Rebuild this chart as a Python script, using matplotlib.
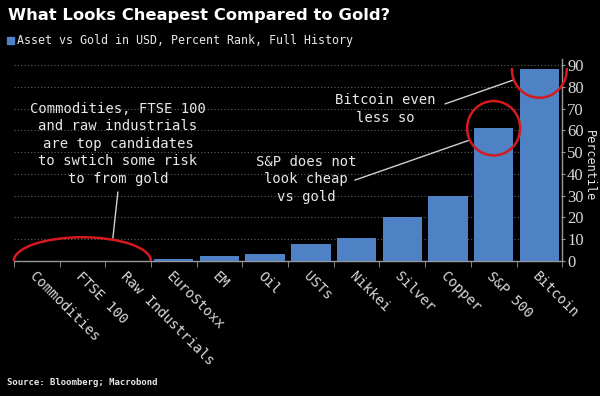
import numpy as np
import matplotlib.pyplot as plt
from matplotlib.patches import Arc, Rectangle

assets = ["Commodities", "FTSE 100", "Raw Industrials", "EuroStoxx", "EM", "Oil",
          "USTs", "Nikkei", "Silver", "Copper", "S&P 500", "Bitcoin"]
pct_rank = [0, 0, 0, 0.8, 2.5, 3, 8, 10.7, 20.2, 30, 61, 88]
y_ticks = [0, 10, 20, 30, 40, 50, 60, 70, 80, 90]

bar_col = "#4f81c5"
red = "#d41a1f"
txt = "#e8e8e8"
grey = "#9a9a9a"
mono = "DejaVu Sans Mono"

fig = plt.figure(figsize=(6, 3.96), dpi=100, facecolor="black")
ax = fig.add_axes([0.023, 0.341, 0.914, 0.511], facecolor="black")

x = np.arange(len(assets))
ax.bar(x, pct_rank, width=0.86, color=bar_col, zorder=3)

ax.set_xlim(-0.5, len(assets) - 0.5)
ax.set_ylim(0, 93)

# y axis on the right
ax.yaxis.tick_right()
ax.yaxis.set_label_position("right")
ax.set_yticks(y_ticks)
ax.set_yticklabels([str(v) for v in y_ticks], family="Liberation Serif",
                   fontsize=12, color="#d8d8d8")
ax.tick_params(axis="y", length=2, color=grey, pad=1.5)
ax.set_ylabel("Percentile", family=mono, fontsize=8.5, color=txt,
              rotation=270, labelpad=9, y=0.47)

ax.set_xticks(x)
ax.set_xticklabels(assets, rotation=-45, ha="left", va="top",
                   rotation_mode="anchor", family=mono, fontsize=10,
                   color="#d8d8d8")
ax.tick_params(axis="x", length=0, pad=6)
ax.set_xticks(np.arange(-0.5, len(assets), 1), minor=True)
ax.tick_params(axis="x", which="minor", length=4, color=grey)

for s in ["top", "left"]:
    ax.spines[s].set_visible(False)
for s in ["bottom", "right"]:
    ax.spines[s].set_color(grey)
    ax.spines[s].set_linewidth(1)

for v in y_ticks[1:]:
    ax.axhline(v, color="#606060", lw=0.8, ls=(0, (1, 2)), zorder=1)

# red circles
ax.add_patch(Arc((1, 0), 3.0, 21.8, theta1=0, theta2=180, color=red, lw=1.8,
                 zorder=5, clip_on=False))
ax.add_patch(Arc((10, 61), 1.16, 25, theta1=0, theta2=360, color=red, lw=1.8,
                 zorder=5))
ax.add_patch(Arc((11, 88), 1.2, 26, theta1=130, theta2=50, color=red, lw=1.8,
                 zorder=5, clip_on=False))

# leader lines
ax.plot([1.777, 1.668], [31.6, 10.5], color="#d0d0d0", lw=1, zorder=4)
ax.plot([6.97, 9.48], [37.2, 55.6], color="#d0d0d0", lw=1, zorder=4)
ax.plot([8.94, 10.45], [72.2, 83.3], color="#d0d0d0", lw=1, zorder=4,
        clip_on=False)

ax.text(1.78, 53.8, "Commodities, FTSE 100\nand raw industrials\nare top candidates\n"
        "to swtich some risk\nto from gold", ha="center", va="center",
        family=mono, fontsize=10, color=txt, linespacing=1.32, zorder=6)
ax.text(5.89, 37.6, "S&P does not\nlook cheap\nvs gold", ha="center",
        va="center", family=mono, fontsize=10, color=txt, linespacing=1.32,
        zorder=6)
ax.text(7.62, 69.9, "Bitcoin even\nless so", ha="center", va="center",
        family=mono, fontsize=10, color=txt, linespacing=1.32, zorder=6)

# title, legend, source
fig.text(0.013, 0.962, "What Looks Cheapest Compared to Gold?", ha="left",
         va="center", fontsize=11.8, fontweight="heavy", color="white")
fig.patches.append(Rectangle((0.012, 0.889), 0.012, 0.018,
                             transform=fig.transFigure, color=bar_col))
fig.text(0.028, 0.898, "Asset vs Gold in USD, Percent Rank, Full History",
         ha="left", va="center", family=mono, fontsize=8.4, color=txt)
fig.text(0.012, 0.035, "Source: Bloomberg; Macrobond", ha="left",
         va="center", family=mono, fontsize=6.5, fontweight="bold",
         color=txt)

fig.savefig("out.png", dpi=100, facecolor="black")
